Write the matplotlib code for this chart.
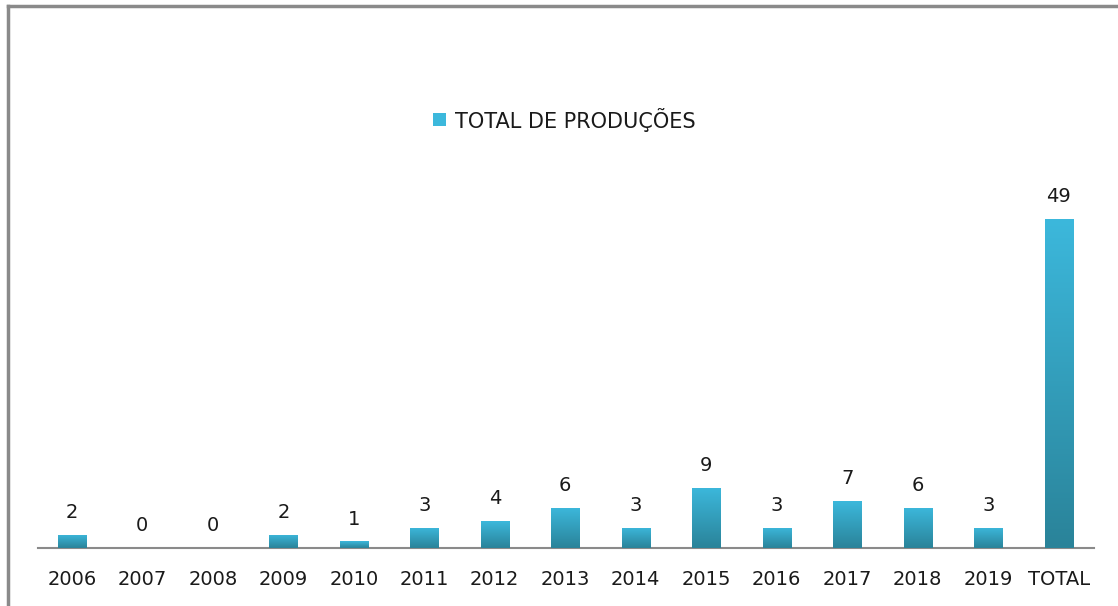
import numpy as np
import matplotlib.pyplot as plt
from matplotlib.lines import Line2D
from matplotlib.patches import Rectangle

plt.rcParams['font.family'] = ['DejaVu Sans']

# Data
categories = ["2006", "2007", "2008", "2009", "2010", "2011", "2012", "2013",
              "2014", "2015", "2016", "2017", "2018", "2019", "TOTAL"]
producoes = [2, 0, 0, 2, 1, 3, 4, 6, 3, 9, 3, 7, 6, 3, 49]
legend_label = "TOTAL DE PRODUÇÕES"

top_color = "#3cb8dc"
bottom_color = "#2a8399"

fig = plt.figure(figsize=(11.18, 6.06), dpi=100)

# outer frame (only left and top edges visible in the crop)
fig.add_artist(Line2D([8 / 1118, 8 / 1118], [0, 1 - 6 / 606], color="#8a8a8a", lw=2.5))
fig.add_artist(Line2D([8 / 1118, 1], [1 - 6 / 606, 1 - 6 / 606], color="#8a8a8a", lw=2.5))

ax = fig.add_axes([38 / 1118, 58 / 606, (1094 - 38) / 1118, (548 - 58) / 606])
x = np.arange(len(categories))
width = 0.4
bars = ax.bar(x, producoes, width=width, color=top_color, zorder=2)

# vertical gradient on each bar
grad = np.linspace(0, 1, 256).reshape(-1, 1)
cmap = plt.matplotlib.colors.LinearSegmentedColormap.from_list("g", [bottom_color, top_color])
for b in bars:
    h = b.get_height()
    if h <= 0:
        continue
    im = ax.imshow(grad, extent=[b.get_x(), b.get_x() + b.get_width(), 0, h],
                   origin="lower", cmap=cmap, aspect="auto", zorder=3)
    im.set_clip_path(b)

for xi, v in zip(x, producoes):
    ax.text(xi, v + 1.9, str(v), ha="center", va="bottom", fontsize=14, color="#1a1a1a")

ax.set_xlim(-0.48, 14.5)
ax.set_ylim(0, 73)
ax.set_xticks(x)
ax.set_xticklabels(categories, fontsize=14, color="#1a1a1a")
ax.tick_params(axis="x", length=0, pad=16)
ax.set_yticks([])
for s in ["top", "right", "left"]:
    ax.spines[s].set_visible(False)
ax.spines["bottom"].set_color("#8a8a8a")
ax.spines["bottom"].set_linewidth(1.5)

# legend
fig.patches.append(Rectangle((433 / 1118, 1 - 126 / 606), 13 / 1118, 13 / 606,
                             transform=fig.transFigure, facecolor=top_color,
                             edgecolor="none"))
fig.text(455 / 1118, 1 - 120 / 606, legend_label, fontsize=15, color="#1a1a1a",
         va="center", ha="left")

fig.savefig("out.png", dpi=100)
